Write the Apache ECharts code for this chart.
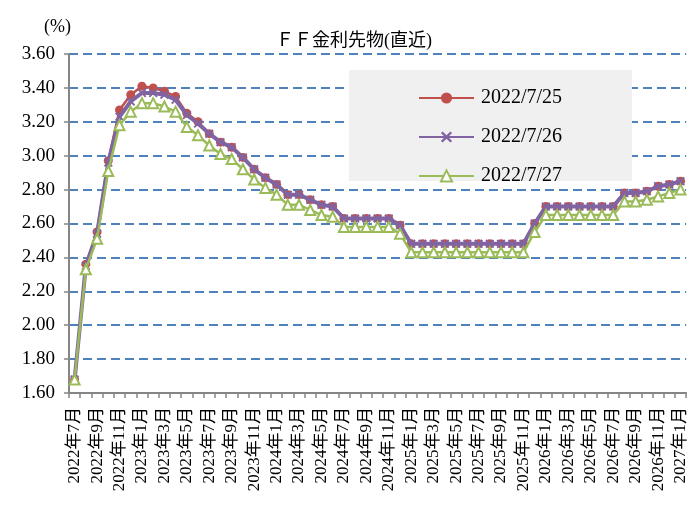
<!DOCTYPE html>
<html><head><meta charset="utf-8">
<script src="https://cdn.jsdelivr.net/npm/echarts@6/dist/echarts.min.js"></script>
<style>html,body{margin:0;padding:0;background:#fff}#c{width:689px;height:506px}</style>
</head><body><div id="c"></div>
<script>
const categories = [];
(function(){ let y=2022, m=7; for(let i=0;i<55;i++){ categories.push(y+'年'+m+'月'); m++; if(m>12){m=1;y++;} } })();
const seriesNames = ['2022/7/25','2022/7/26','2022/7/27'];
const s0725 = [1.68,2.36,2.55,2.97,3.27,3.36,3.41,3.40,3.38,3.35,3.25,3.20,3.13,3.08,3.05,2.99,2.92,2.87,2.83,2.77,2.77,2.74,2.71,2.70,2.63,2.63,2.63,2.63,2.63,2.59,2.48,2.48,2.48,2.48,2.48,2.48,2.48,2.48,2.48,2.48,2.48,2.60,2.70,2.70,2.70,2.70,2.70,2.70,2.70,2.78,2.78,2.79,2.82,2.83,2.85];
const s0726 = [1.68,2.35,2.54,2.96,3.23,3.32,3.37,3.37,3.36,3.33,3.24,3.19,3.13,3.08,3.05,2.99,2.92,2.87,2.83,2.77,2.77,2.74,2.71,2.70,2.63,2.63,2.63,2.63,2.63,2.59,2.48,2.48,2.48,2.48,2.48,2.48,2.48,2.48,2.48,2.48,2.48,2.60,2.70,2.70,2.70,2.70,2.70,2.70,2.70,2.78,2.78,2.79,2.82,2.83,2.85];
const s0727 = [1.68,2.33,2.51,2.91,3.18,3.26,3.31,3.31,3.29,3.26,3.17,3.12,3.06,3.01,2.98,2.92,2.86,2.81,2.77,2.71,2.71,2.68,2.65,2.64,2.58,2.58,2.58,2.58,2.58,2.54,2.43,2.43,2.43,2.43,2.43,2.43,2.43,2.43,2.43,2.43,2.43,2.55,2.65,2.65,2.65,2.65,2.65,2.65,2.65,2.73,2.73,2.74,2.76,2.78,2.80];
const yMin = 1.6, yMax = 3.6, yStep = 0.2;

const FONT = "'Liberation Serif','Noto Sans CJK JP',serif";
const xPath = 'path://M0,1.5 L1.5,0 L5,3.5 L8.5,0 L10,1.5 L6.5,5 L10,8.5 L8.5,10 L5,6.5 L1.5,10 L0,8.5 L3.5,5 Z';
const chart = echarts.init(document.getElementById('c'), null, {renderer:'canvas'});
chart.setOption({
  animation:false,
  backgroundColor:'#fff',
  title:{text:'ＦＦ金利先物(直近)', left:349, top:27, textAlign:'center',
    textStyle:{fontFamily:FONT, fontSize:18, fontWeight:'normal', color:'#000'}},
  graphic:[
    {type:'rect', shape:{x:349,y:70,width:283,height:111}, style:{fill:'#f0f0f0'}, z:1},
    {type:'text', left:44, top:18, style:{text:'(%)', font:"18px "+FONT, fill:'#000'}}
  ],
  legend:{orient:'vertical', left:413, top:83, itemWidth:55, itemHeight:14, itemGap:19,
    textStyle:{fontFamily:FONT, fontSize:20, color:'#000', padding:[0,0,0,2]}, z:3,
    data:seriesNames},
  grid:{left:69, right:0, top:54, bottom:113, containLabel:false},
  xAxis:{type:'category', data:categories, boundaryGap:true,
    axisLine:{lineStyle:{color:'#868686', width:2}},
    axisTick:{show:true, interval:0, length:5, lineStyle:{color:'#868686', width:1.5}},
    axisLabel:{interval:1, rotate:90, margin:14, fontFamily:FONT, fontSize:17, color:'#000'}},
  yAxis:{type:'value', min:yMin, max:yMax, interval:yStep,
    axisLine:{show:true, lineStyle:{color:'#868686', width:2}},
    axisTick:{show:true, length:5, lineStyle:{color:'#868686', width:1.5}},
    axisLabel:{margin:14, fontFamily:FONT, fontSize:19, color:'#000', formatter:v=>v.toFixed(2)},
    splitLine:{show:true, lineStyle:{color:'#4F81BD', width:2, type:[9,5]}}},
  series:[
    {name:seriesNames[0], type:'line', data:s0725, symbol:'circle', symbolSize:9, showAllSymbol:true,
     lineStyle:{color:'#C0504D', width:2.5}, itemStyle:{color:'#C0504D'}, z:4},
    {name:seriesNames[1], type:'line', data:s0726, symbol:xPath, symbolSize:9, showAllSymbol:true,
     lineStyle:{color:'#8064A2', width:4}, itemStyle:{color:'#8064A2'}, z:5},
    {name:seriesNames[2], type:'line', data:s0727, symbol:'triangle', symbolSize:10, showAllSymbol:true,
     lineStyle:{color:'#9BBB59', width:2.5}, itemStyle:{color:'#fff', borderColor:'#9BBB59', borderWidth:2}, z:6}
  ]
});
</script></body></html>
